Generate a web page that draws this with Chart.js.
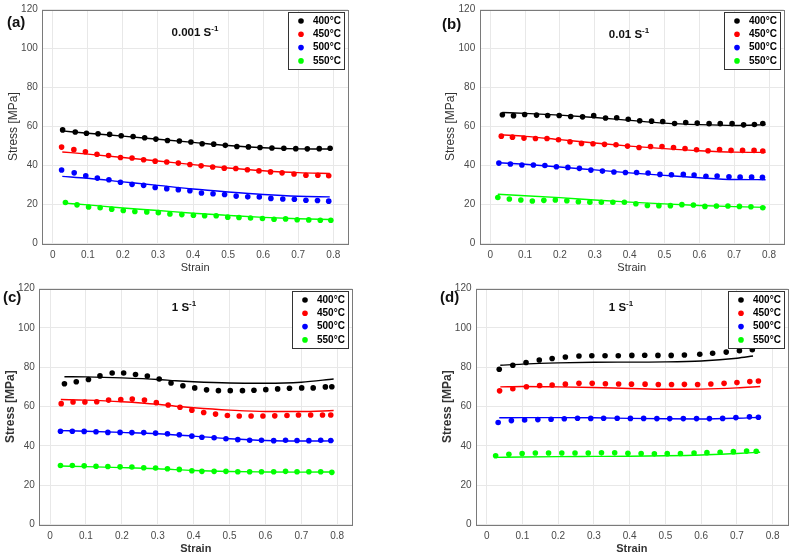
<!DOCTYPE html>
<html>
<head>
<meta charset="utf-8">
<script src="https://cdn.jsdelivr.net/npm/chart.js@4.4.1/dist/chart.umd.min.js"></script>
<style>
  body { margin: 0; background: #fff; width: 794px; height: 558px; position: relative; overflow: hidden;
         font-family: "Liberation Sans", Arial, sans-serif; }
  canvas { position: absolute; }
  .tag { position: absolute; font-weight: bold; font-size: 15px; color: #111; transform: translateY(-50%); }
  .rate { position: absolute; font-weight: bold; font-size: 11.5px; color: #111; white-space: nowrap;
          transform: translate(-50%, -50%); }
  .rate sup { font-size: 8px; }
</style>
</head>
<body>
<canvas id="chartA" width="397" height="279" style="left:0;top:0"></canvas>
<canvas id="chartB" width="397" height="279" style="left:397px;top:0"></canvas>
<canvas id="chartC" width="397" height="279" style="left:0;top:279px"></canvas>
<canvas id="chartD" width="397" height="279" style="left:397px;top:279px"></canvas>

<div class="tag" style="left:7px;top:21px">(a)</div>
<div class="tag" style="left:442px;top:23px">(b)</div>
<div class="tag" style="left:3px;top:296px">(c)</div>
<div class="tag" style="left:440px;top:296px">(d)</div>
<div class="rate" style="left:195px;top:31px">0.001 S<sup>-1</sup></div>
<div class="rate" style="left:629px;top:33px">0.01 S<sup>-1</sup></div>
<div class="rate" style="left:184px;top:306px">1 S<sup>-1</sup></div>
<div class="rate" style="left:621px;top:306px">1 S<sup>-1</sup></div>

<script>
// series labels / colours
const temps = ['400°C', '450°C', '500°C', '550°C'];
const colors = ['#000000', '#ff0000', '#0000ff', '#00ff00'];

// ---- (a) 0.001 s-1 : measured points
const aX400 = [0.028, 0.064, 0.096, 0.129, 0.162, 0.195, 0.229, 0.262, 0.294, 0.327, 0.361, 0.394, 0.426, 0.459, 0.492, 0.525, 0.558, 0.591, 0.625, 0.659, 0.693, 0.726, 0.760, 0.791];
const aY400 = [58.3, 57.2, 56.6, 56.3, 56.0, 55.3, 54.9, 54.3, 53.6, 52.9, 52.6, 52.1, 51.2, 51.0, 50.4, 49.8, 49.6, 49.3, 49.0, 48.9, 48.7, 48.6, 48.7, 48.9];
const aX450 = [0.025, 0.060, 0.093, 0.126, 0.159, 0.193, 0.226, 0.259, 0.292, 0.325, 0.358, 0.391, 0.423, 0.456, 0.489, 0.522, 0.555, 0.588, 0.621, 0.654, 0.688, 0.722, 0.756, 0.787];
const aY450 = [49.5, 48.2, 47.1, 45.8, 45.2, 44.2, 43.9, 43.0, 42.3, 41.9, 41.3, 40.6, 39.9, 39.3, 38.7, 38.5, 37.9, 37.3, 36.8, 36.3, 35.7, 35.1, 35.1, 34.8];
const aX500 = [0.025, 0.061, 0.094, 0.127, 0.160, 0.193, 0.226, 0.259, 0.292, 0.325, 0.358, 0.391, 0.424, 0.457, 0.490, 0.523, 0.556, 0.589, 0.622, 0.656, 0.689, 0.722, 0.755, 0.787];
const aY500 = [37.8, 36.3, 34.8, 33.6, 32.8, 31.5, 30.4, 29.9, 28.8, 28.2, 27.7, 27.1, 26.0, 25.6, 25.2, 24.4, 24.0, 23.9, 23.2, 22.9, 22.8, 22.3, 22.1, 21.8];
const aX550 = [0.036, 0.069, 0.102, 0.135, 0.168, 0.201, 0.234, 0.268, 0.301, 0.334, 0.368, 0.401, 0.433, 0.466, 0.499, 0.531, 0.564, 0.598, 0.631, 0.664, 0.697, 0.730, 0.763, 0.793];
const aY550 = [21.1, 19.9, 18.8, 18.4, 17.7, 17.0, 16.5, 16.3, 15.9, 15.2, 14.9, 14.6, 14.3, 14.3, 13.6, 13.4, 13.2, 12.9, 12.5, 12.7, 12.3, 12.2, 12.0, 12.0];
// (a) model curves
const aFitX400 = [0.027, 0.1, 0.2, 0.3, 0.4, 0.5, 0.6, 0.7, 0.79];
const aFitY400 = [57.8, 56.6, 55.1, 53.5, 51.9, 50.3, 49.2, 48.6, 48.5];
const aFitX450 = [0.027, 0.1, 0.2, 0.3, 0.4, 0.5, 0.6, 0.7, 0.79];
const aFitY450 = [47.0, 45.9, 44.2, 42.4, 40.5, 38.8, 37.4, 36.4, 36.0];
const aFitX500 = [0.027, 0.1, 0.2, 0.3, 0.4, 0.5, 0.6, 0.7, 0.79];
const aFitY500 = [34.5, 33.5, 31.7, 29.9, 28.0, 26.5, 25.2, 24.3, 24.0];
const aFitX550 = [0.035, 0.1, 0.2, 0.3, 0.4, 0.5, 0.6, 0.7, 0.79];
const aFitY550 = [20.8, 19.9, 18.3, 17.0, 15.6, 14.5, 13.5, 12.8, 12.4];

// ---- (b) 0.01 s-1
const bX400 = [0.035, 0.067, 0.099, 0.133, 0.165, 0.198, 0.231, 0.265, 0.297, 0.331, 0.363, 0.396, 0.429, 0.463, 0.495, 0.529, 0.561, 0.594, 0.628, 0.660, 0.694, 0.727, 0.758, 0.782];
const bY400 = [66.1, 65.6, 66.2, 65.9, 65.7, 65.7, 65.2, 65.0, 65.6, 64.4, 64.5, 63.8, 63.0, 62.8, 62.6, 61.6, 62.1, 61.8, 61.5, 61.5, 61.5, 60.9, 61.1, 61.6];
const bX450 = [0.032, 0.064, 0.097, 0.130, 0.163, 0.196, 0.229, 0.262, 0.295, 0.328, 0.361, 0.394, 0.427, 0.460, 0.493, 0.526, 0.559, 0.592, 0.625, 0.658, 0.691, 0.724, 0.757, 0.782];
const bY450 = [55.1, 54.6, 54.1, 53.9, 53.9, 53.3, 52.2, 51.4, 51.2, 50.9, 50.7, 50.0, 49.3, 49.8, 49.8, 49.3, 48.8, 48.1, 47.6, 48.3, 47.8, 47.8, 47.8, 47.5];
const bX500 = [0.025, 0.058, 0.091, 0.124, 0.157, 0.190, 0.223, 0.256, 0.289, 0.322, 0.355, 0.388, 0.420, 0.453, 0.487, 0.520, 0.554, 0.585, 0.619, 0.651, 0.685, 0.717, 0.750, 0.781];
const bY500 = [41.3, 40.8, 40.3, 40.3, 40.1, 39.4, 39.1, 38.6, 37.7, 37.2, 36.7, 36.5, 36.5, 36.2, 35.5, 35.3, 35.5, 35.2, 34.5, 34.7, 34.3, 34.1, 34.1, 34.0];
const bX550 = [0.022, 0.055, 0.088, 0.121, 0.154, 0.187, 0.220, 0.253, 0.286, 0.319, 0.352, 0.385, 0.418, 0.451, 0.484, 0.517, 0.550, 0.583, 0.616, 0.649, 0.682, 0.715, 0.748, 0.782];
const bY550 = [23.7, 22.9, 22.4, 21.9, 22.2, 22.4, 22.0, 21.5, 21.3, 21.2, 21.2, 21.2, 20.5, 19.6, 19.5, 19.5, 20.0, 19.8, 19.1, 19.3, 19.3, 19.1, 18.9, 18.4];
const bFitX400 = [0.035, 0.1, 0.2, 0.3, 0.4, 0.5, 0.6, 0.7, 0.79];
const bFitY400 = [67.2, 66.8, 65.9, 64.7, 63.2, 61.8, 61.0, 60.6, 61.0];
const bFitX450 = [0.03, 0.1, 0.2, 0.3, 0.4, 0.5, 0.6, 0.7, 0.79];
const bFitY450 = [55.8, 55.0, 53.3, 51.6, 50.0, 48.7, 47.6, 46.9, 46.8];
const bFitX500 = [0.025, 0.1, 0.2, 0.3, 0.4, 0.5, 0.6, 0.7, 0.79];
const bFitY500 = [41.5, 40.7, 39.3, 37.8, 36.3, 35.0, 33.8, 32.9, 32.8];
const bFitX550 = [0.022, 0.1, 0.2, 0.3, 0.4, 0.5, 0.6, 0.7, 0.79];
const bFitY550 = [25.3, 24.6, 23.6, 22.4, 21.3, 20.4, 19.6, 19.0, 18.6];

// ---- (c) 1 s-1
const cX400 = [0.040, 0.073, 0.107, 0.139, 0.173, 0.205, 0.238, 0.271, 0.304, 0.337, 0.370, 0.403, 0.436, 0.469, 0.502, 0.536, 0.568, 0.601, 0.634, 0.667, 0.701, 0.733, 0.767, 0.785];
const cY400 = [71.6, 72.6, 73.8, 75.6, 77.1, 77.1, 76.3, 75.5, 74.0, 72.0, 70.6, 69.5, 68.5, 68.1, 68.1, 68.1, 68.3, 68.6, 69.0, 69.3, 69.5, 69.5, 70.0, 70.1];
const cX450 = [0.031, 0.064, 0.097, 0.130, 0.163, 0.197, 0.229, 0.263, 0.296, 0.329, 0.362, 0.395, 0.428, 0.461, 0.494, 0.527, 0.560, 0.593, 0.626, 0.660, 0.692, 0.726, 0.759, 0.782];
const cY450 = [61.5, 62.3, 62.3, 62.5, 63.3, 63.6, 63.8, 63.3, 62.0, 60.8, 59.7, 58.2, 57.0, 56.2, 55.5, 55.2, 55.2, 55.2, 55.3, 55.5, 55.7, 55.7, 55.7, 55.7];
const cX500 = [0.029, 0.062, 0.095, 0.128, 0.161, 0.195, 0.228, 0.261, 0.294, 0.327, 0.360, 0.395, 0.423, 0.457, 0.490, 0.523, 0.556, 0.589, 0.623, 0.656, 0.688, 0.721, 0.754, 0.782];
const cY500 = [47.5, 47.5, 47.4, 47.2, 46.9, 46.9, 46.8, 46.8, 46.5, 46.2, 45.7, 45.0, 44.4, 44.2, 43.7, 43.2, 42.9, 42.9, 42.7, 42.9, 42.8, 42.7, 42.9, 42.8];
const cX550 = [0.029, 0.062, 0.095, 0.128, 0.161, 0.195, 0.228, 0.261, 0.294, 0.327, 0.360, 0.395, 0.423, 0.457, 0.490, 0.523, 0.556, 0.589, 0.623, 0.656, 0.688, 0.721, 0.754, 0.785];
const cY550 = [30.1, 30.1, 29.9, 29.7, 29.6, 29.4, 29.3, 28.9, 28.8, 28.4, 28.1, 27.4, 27.1, 27.1, 27.1, 26.9, 26.9, 26.9, 26.9, 27.1, 26.9, 26.9, 26.9, 26.6];
const cFitX400 = [0.04, 0.1, 0.2, 0.3, 0.35, 0.4, 0.5, 0.6, 0.7, 0.79];
const cFitY400 = [75.2, 75.1, 74.6, 73.8, 73.1, 72.6, 72.0, 71.9, 72.4, 74.0];
const cFitX450 = [0.03, 0.1, 0.2, 0.3, 0.35, 0.4, 0.5, 0.6, 0.7, 0.79];
const cFitY450 = [63.6, 63.3, 62.5, 61.2, 60.2, 59.4, 58.2, 57.5, 57.5, 58.0];
const cFitX500 = [0.03, 0.1, 0.2, 0.3, 0.4, 0.5, 0.6, 0.7, 0.79];
const cFitY500 = [47.8, 47.5, 46.9, 46.2, 45.0, 43.7, 42.8, 42.5, 42.6];
const cFitX550 = [0.03, 0.1, 0.2, 0.3, 0.4, 0.5, 0.6, 0.7, 0.79];
const cFitY550 = [29.8, 29.5, 29.0, 28.4, 27.5, 27.0, 26.8, 26.7, 26.8];

// ---- (d) 1 s-1
const dX400 = [0.035, 0.073, 0.110, 0.147, 0.183, 0.220, 0.258, 0.294, 0.331, 0.368, 0.406, 0.442, 0.479, 0.516, 0.553, 0.596, 0.632, 0.670, 0.707, 0.743];
const dY400 = [79.0, 81.0, 82.4, 83.7, 84.4, 85.2, 85.7, 85.8, 85.8, 85.8, 86.0, 86.1, 86.0, 86.0, 86.2, 86.6, 87.1, 87.7, 88.4, 88.9];
const dX450 = [0.036, 0.073, 0.111, 0.148, 0.183, 0.220, 0.258, 0.295, 0.332, 0.369, 0.405, 0.443, 0.480, 0.517, 0.553, 0.590, 0.627, 0.664, 0.700, 0.736, 0.760];
const dY450 = [68.0, 69.1, 70.1, 70.7, 71.0, 71.4, 71.8, 71.8, 71.6, 71.5, 71.4, 71.4, 71.2, 71.2, 71.3, 71.2, 71.5, 71.8, 72.2, 72.7, 73.0];
const dX500 = [0.032, 0.069, 0.106, 0.143, 0.180, 0.217, 0.254, 0.291, 0.327, 0.365, 0.402, 0.439, 0.476, 0.512, 0.550, 0.587, 0.623, 0.660, 0.697, 0.735, 0.760];
const dY500 = [51.9, 52.9, 53.2, 53.4, 53.6, 53.8, 54.1, 54.0, 54.1, 54.1, 54.0, 54.0, 53.9, 53.9, 53.9, 53.9, 53.9, 54.0, 54.4, 54.8, 54.6];
const dX550 = [0.025, 0.062, 0.099, 0.136, 0.173, 0.210, 0.247, 0.284, 0.321, 0.358, 0.395, 0.432, 0.469, 0.505, 0.542, 0.580, 0.616, 0.653, 0.690, 0.727, 0.754];
const dY550 = [35.0, 35.8, 36.2, 36.4, 36.4, 36.4, 36.4, 36.4, 36.5, 36.5, 36.3, 36.2, 36.0, 36.1, 36.2, 36.4, 36.6, 36.8, 37.1, 37.4, 37.3];
const dFitX400 = [0.038, 0.1, 0.2, 0.3, 0.4, 0.5, 0.6, 0.7, 0.745];
const dFitY400 = [81.0, 81.6, 82.2, 82.5, 82.6, 82.7, 83.2, 84.6, 85.7];
const dFitX450 = [0.038, 0.1, 0.2, 0.3, 0.4, 0.5, 0.6, 0.7, 0.765];
const dFitY450 = [70.0, 70.2, 70.0, 69.7, 69.2, 68.8, 68.9, 69.5, 70.2];
const dFitX500 = [0.035, 0.1, 0.2, 0.3, 0.4, 0.5, 0.6, 0.7, 0.765];
const dFitY500 = [54.3, 54.4, 54.4, 54.3, 54.0, 53.8, 53.7, 54.1, 54.6];
const dFitX550 = [0.025, 0.1, 0.2, 0.3, 0.4, 0.5, 0.6, 0.7, 0.765];
const dFitY550 = [34.2, 34.4, 34.6, 34.7, 34.8, 35.0, 35.4, 36.2, 36.8];

const yTicks = [0, 20, 40, 60, 80, 100, 120];

const FONT = '"Liberation Sans", Arial, sans-serif';

function zip(xs, ys) {
  return xs.map((x, i) => ({ x: x, y: ys[i] }));
}

// box around the plot area (matlab style)
const frame = {
  id: 'frame',
  afterDatasetsDraw(chart) {
    const a = chart.chartArea, ctx = chart.ctx;
    ctx.save();
    ctx.strokeStyle = '#7a7a7a';
    ctx.lineWidth = 1;
    ctx.strokeRect(Math.round(a.left) + 0.5, Math.round(a.top) + 0.5,
      Math.round(a.right - a.left), Math.round(a.bottom - a.top));
    ctx.restore();
  }
};

// legend drawn inside the plot, top right with a border
const boxLegend = {
  id: 'boxLegend',
  afterDraw(chart) {
    const a = chart.chartArea, ctx = chart.ctx;
    const w = 56, h = 57;
    const left = Math.round(a.right - 4 - w), top = Math.round(a.top + 2);
    ctx.save();
    ctx.fillStyle = '#fff';
    ctx.fillRect(left, top, w, h);
    ctx.strokeStyle = '#333';
    ctx.lineWidth = 1;
    ctx.strokeRect(left + 0.5, top + 0.5, w, h);
    ctx.font = 'bold 10px ' + FONT;
    ctx.textBaseline = 'middle';
    chart.data.datasets.filter(d => d.isPoints).forEach((d, i) => {
      const y = top + 9 + i * 13.3;
      ctx.fillStyle = d.backgroundColor;
      ctx.beginPath();
      ctx.arc(left + 13, y, 2.8, 0, Math.PI * 2);
      ctx.fill();
      ctx.fillStyle = '#000';
      ctx.fillText(d.label, left + 25, y);
    });
    ctx.restore();
  }
};

function makeChart(id, points, fits, pad, bold) {
  const datasets = [];
  points.forEach((p, i) => {
    datasets.push({
      label: temps[i], isPoints: true, data: zip(p[0], p[1]),
      backgroundColor: colors[i], borderWidth: 0, pointRadius: 2.8, showLine: false
    });
  });
  fits.forEach((f, i) => {
    datasets.push({
      label: temps[i] + ' fit', data: zip(f[0], f[1]),
      borderColor: colors[i], borderWidth: 1.4, pointRadius: 0, showLine: true,
      cubicInterpolationMode: 'monotone'
    });
  });
  const titleWeight = bold ? 'bold' : 'normal';
  return new Chart(document.getElementById(id), {
    type: 'scatter',
    data: { datasets: datasets },
    options: {
      responsive: false,
      animation: false,
      layout: { padding: pad },
      plugins: { legend: { display: false }, tooltip: { enabled: false } },
      scales: {
        x: {
          type: 'linear', min: -0.03, max: 0.842,
          afterFit: s => { s.height = 31; },
          border: { display: false },
          grid: { color: '#e8e8e8', drawTicks: false },
          ticks: { stepSize: 0.1, includeBounds: false, padding: 5.7, color: '#4a4a4a',
                   font: { family: FONT, size: 10 } },
          title: { display: true, text: 'Strain', color: '#333', padding: 0,
                   font: { family: FONT, size: 11, weight: titleWeight } }
        },
        y: {
          type: 'linear', min: yTicks[0], max: yTicks[yTicks.length - 1],
          afterFit: s => { s.width = 36; },
          border: { display: false },
          grid: { color: '#e8e8e8', drawTicks: false },
          ticks: { stepSize: 20, padding: 4.5, color: '#4a4a4a',
                   font: { family: FONT, size: 10, lineHeight: 1 } },
          title: { display: true, text: 'Stress [MPa]', color: '#333', padding: 0,
                   font: { family: FONT, size: 12, weight: titleWeight } }
        }
      }
    },
    plugins: [frame, boxLegend]
  });
}

makeChart('chartA',
  [[aX400, aY400], [aX450, aY450], [aX500, aY500], [aX550, aY550]],
  [[aFitX400, aFitY400], [aFitX450, aFitY450], [aFitX500, aFitY500], [aFitX550, aFitY550]],
  { left: 6.3, top: 7.3, right: 49, bottom: 4.3 }, false);

makeChart('chartB',
  [[bX400, bY400], [bX450, bY450], [bX500, bY500], [bX550, bY550]],
  [[bFitX400, bFitY400], [bFitX450, bFitY450], [bFitX500, bFitY500], [bFitX550, bFitY550]],
  { left: 46.7, top: 9.3, right: 10.3, bottom: 4.3 }, false);

makeChart('chartC',
  [[cX400, cY400], [cX450, cY450], [cX500, cY500], [cX550, cY550]],
  [[cFitX400, cFitY400], [cFitX450, cFitY450], [cFitX500, cFitY500], [cFitX550, cFitY550]],
  { left: 3.3, top: 5, right: 44.7, bottom: 2.3 }, true);

makeChart('chartD',
  [[dX400, dY400], [dX450, dY450], [dX500, dY500], [dX550, dY550]],
  [[dFitX400, dFitY400], [dFitX450, dFitY450], [dFitX500, dFitY500], [dFitX550, dFitY550]],
  { left: 43, top: 4.7, right: 6.3, bottom: 2.3 }, true);
</script>
</body>
</html>
